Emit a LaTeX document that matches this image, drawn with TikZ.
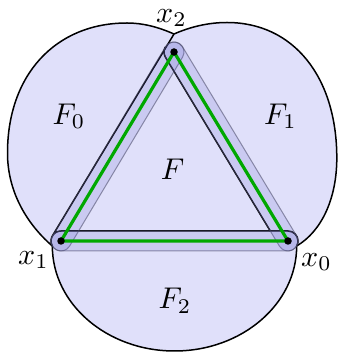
\documentclass[tikz,border=0pt]{standalone}
\usetikzlibrary{calc}
\definecolor{lav}{RGB}{224,224,250}
\definecolor{bandfill}{RGB}{90,90,200}
\definecolor{bandline}{RGB}{70,70,100}
\definecolor{grn}{RGB}{0,168,0}
\begin{document}
\begin{tikzpicture}[x=1pt,y=1pt,
  outl/.style={line width=1.5pt, black, line join=round},
  band/.style={fill=bandfill, fill opacity=0.16, draw=bandline, draw opacity=0.55, line width=1pt},
  lbl/.style={scale=3.0, inner sep=0pt},
  dot/.style={circle, fill=black, inner sep=0pt, minimum size=7.5pt}]
\useasboundingbox (0,0) rectangle (338,353);
\coordinate (X2) at (174,301);
\coordinate (X1) at (61,112);
\coordinate (X0) at (288,112);
\coordinate (P2) at (174,319);
\coordinate (Q0) at (296.66,107);
\coordinate (Q1) at (52.34,107);
\coordinate (T1) at (227,330.5);
\coordinate (R) at (336.8,195);
\coordinate (T0) at (127,330);
\coordinate (Lf) at (7.5,200);
\coordinate (L1) at ($(X1)+(149.13:10)$);
\coordinate (T) at ($(X2)+(211.1:10)$);
\coordinate (R1) at (270.3,122);
% filled union of the regions
\fill[lav] (P2) .. controls (190,326) and (208,330.5) .. (T1)
  .. controls (293.3,330.5) and (336.8,276.3) .. (R)
  .. controls (336.8,155) and (322,122) .. (Q0)
  arc[start angle=0, end angle=-180, x radius=122.16, y radius=105]
  .. controls (28,128) and (7.5,160) .. (Lf)
  .. controls (7.5,278) and (55.3,330) .. (T0)
  .. controls (143,330) and (158,326) .. (P2) -- cycle;
% outer arcs
\draw[outl] (P2) .. controls (190,326) and (208,330.5) .. (T1)
  .. controls (293.3,330.5) and (336.8,276.3) .. (R)
  .. controls (336.8,155) and (322,122) .. (Q0)
  arc[start angle=0, end angle=-180, x radius=122.16, y radius=105]
  .. controls (28,128) and (7.5,160) .. (Lf)
  .. controls (7.5,278) and (55.3,330) .. (T0)
  .. controls (143,330) and (158,326) .. (P2);
% inner black lines
\draw[outl] (P2) -- (L1) arc[start angle=149.13, end angle=90, radius=10]
  -- ($(X0)+(90:10)$) arc[start angle=90, end angle=-30, radius=10];
\draw[outl] (Q1) arc[start angle=210, end angle=149.13, radius=10];
\draw[outl] (R1) -- (T) arc[start angle=211.1, end angle=149.13, radius=10];
% bands
\path[band] ($(X1)+(149.13:10)$) -- ($(X2)+(149.13:10)$) arc[start angle=149.13, end angle=-30.87, radius=10]
  -- ($(X1)+(-30.87:10)$) arc[start angle=-30.87, end angle=-210.87, radius=10] -- cycle;
\path[band] ($(X2)+(31.1:10)$) -- ($(X0)+(31.1:10)$) arc[start angle=31.1, end angle=-148.9, radius=10]
  -- ($(X2)+(-148.9:10)$) arc[start angle=-148.9, end angle=-328.9, radius=10] -- cycle;
\path[band] ($(X0)+(270:10)$) -- ($(X1)+(270:10)$) arc[start angle=270, end angle=90, radius=10]
  -- ($(X0)+(90:10)$) arc[start angle=90, end angle=-90, radius=10] -- cycle;
% green triangle
\draw[grn, line width=3.2pt] (X0) -- (X1) -- (X2) -- cycle;
\node[dot] (d0) at (X0) {};
\node[dot] (d1) at (X1) {};
\node[dot] (d2) at (X2) {};
% labels
\node[lbl] (lx2) at (171.5,335) {$x_2$};
\node[lbl] (lx1) at (33.5,93) {$x_1$};
\node[lbl] (lx0) at (316.5,91) {$x_0$};
\node[lbl] (lF0) at (69,236.5) {$F_0$};
\node[lbl] (lF1) at (280.5,236.5) {$F_1$};
\node[lbl] (lF) at (172.5,184) {$F$};
\node[lbl] (lF2) at (175,52) {$F_2$};
\end{tikzpicture}
\end{document}
